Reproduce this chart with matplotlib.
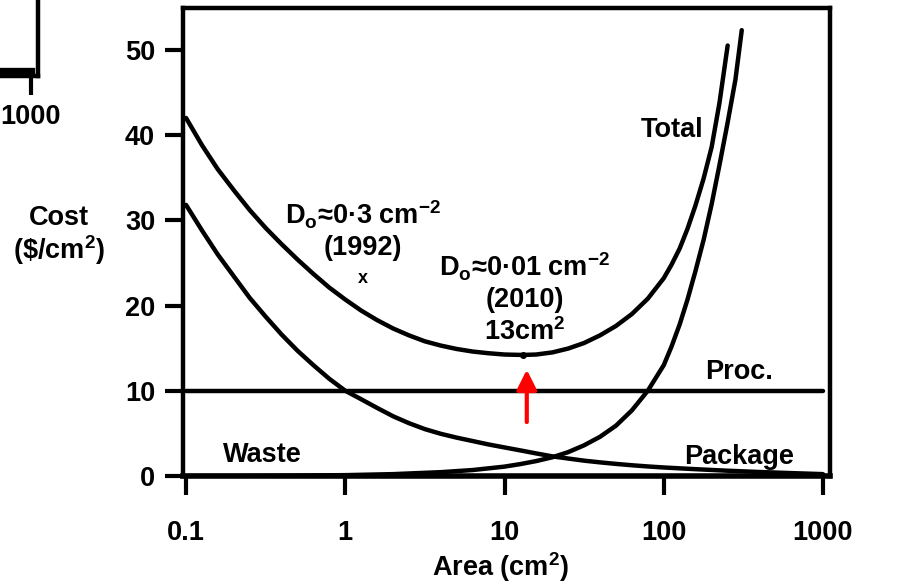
import numpy as np
import matplotlib
matplotlib.use("Agg")
from matplotlib import pyplot as plt

plt.rcParams['font.family'] = ['Liberation Sans', 'DejaVu Sans']
plt.rcParams['font.weight'] = 'bold'
plt.rcParams['mathtext.fontset'] = 'custom'
plt.rcParams['mathtext.rm'] = 'Liberation Sans:bold'
plt.rcParams['mathtext.it'] = 'Liberation Sans:bold'
plt.rcParams['mathtext.bf'] = 'Liberation Sans:bold'

FS = 19.5

## cost curves, $/cm^2 against chip area in cm^2
pack_area = [0.1, 0.126, 0.158, 0.2, 0.251, 0.316, 0.398, 0.501, 0.631, 0.794,
             1.0, 1.26, 1.58, 2.0, 2.51, 3.16, 3.98, 5.01, 6.31, 7.94,
             10, 12.6, 15.8, 20, 25.1, 31.6, 39.8, 50.1, 63.1, 79.4,
             100, 158, 251, 398, 631, 1000]
pack_cost = [31.8, 28.8, 26.0, 23.4, 20.9, 18.7, 16.6, 14.7, 13.0, 11.4,
             10.0, 9.0, 8.0, 7.0, 6.2, 5.5, 4.95, 4.5, 4.1, 3.7,
             3.35, 3.0, 2.65, 2.3, 2.05, 1.8, 1.6, 1.42, 1.26, 1.12,
             1.0, 0.8, 0.62, 0.47, 0.34, 0.22]

waste_area = [0.1, 0.316, 1.0, 2.0, 3.98, 6.31, 10, 12.6, 15.8, 20, 25.1, 31.6, 39.8,
              50.1, 63.1, 79.4, 100, 112, 126, 141, 158, 178, 200, 224, 251, 282, 309]
waste_cost = [0.0, 0.02, 0.1, 0.22, 0.45, 0.7, 1.1, 1.4, 1.75, 2.2, 2.8, 3.6, 4.6,
              5.9, 7.7, 10.0, 13.0, 15.2, 17.8, 20.7, 24.0, 27.7, 31.9, 36.5, 41.3, 46.5, 52.3]

total_area = [0.1, 0.126, 0.158, 0.2, 0.251, 0.316, 0.398, 0.501, 0.631, 0.794,
              1.0, 1.26, 1.58, 2.0, 2.51, 3.16, 3.98, 5.01, 6.31, 7.94,
              10, 13, 15.8, 20, 25.1, 31.6, 39.8, 50.1, 63.1, 79.4,
              100, 112, 126, 141, 158, 178, 200, 224, 252]
total_cost = [42.0, 38.8, 36.0, 33.5, 31.2, 29.1, 27.2, 25.4, 23.7, 22.1,
              20.7, 19.4, 18.3, 17.3, 16.5, 15.8, 15.3, 14.9, 14.6, 14.4,
              14.25, 14.2, 14.25, 14.5, 14.95, 15.6, 16.5, 17.6, 19.0, 20.8,
              23.2, 24.8, 26.7, 29.0, 31.7, 34.9, 38.6, 43.8, 50.5]

proc_area = [0.1, 1000]
proc_cost = [10, 10]

opt_area, opt_cost = 13, 14.2        # optimum for Do=0.01
old_area, old_cost = 1.29, 23.2      # 1992 point

fig = plt.figure(figsize=(9.07, 5.87), dpi=100)
W, H = 907.0, 587.0

ax = fig.add_axes([183 / W, 1 - 476 / H, 647 / W, 468 / H])
ax.set_xscale('log')
ax.set_xlim(0.0957, 1107)
ax.set_ylim(0, 54.9)

lw = 3.2
ax.plot(pack_area, pack_cost, color='black', lw=lw, solid_capstyle='round')
ax.plot(waste_area, waste_cost, color='black', lw=lw, solid_capstyle='round')
ax.plot(total_area, total_cost, color='black', lw=lw, solid_capstyle='round')
ax.plot(proc_area, proc_cost, color='black', lw=lw, solid_capstyle='round')

ax.plot([opt_area], [opt_cost], 'o', color='black', ms=4)
ax.text(old_area, old_cost, 'x', ha='center', va='center', fontsize=13)

ax.annotate('', xy=(13.8, 12.8), xytext=(13.8, 6.0),
            arrowprops=dict(arrowstyle='-|>', color='red', lw=3, mutation_scale=30))

ax.text(1.29, 30.6, r'D$_{\rm o}$≈0·3 cm$^{-2}$', ha='center', va='center', fontsize=FS)
ax.text(1.29, 26.7, '(1992)', ha='center', va='center', fontsize=FS)
ax.text(13.4, 24.5, r'D$_{\rm o}$≈0·01 cm$^{-2}$', ha='center', va='center', fontsize=FS)
ax.text(13.4, 20.6, '(2010)', ha='center', va='center', fontsize=FS)
ax.text(13.4, 16.9, r'13cm$^2$', ha='center', va='center', fontsize=FS)

ax.text(112, 40.6, 'Total', ha='center', va='center', fontsize=FS)
ax.text(296, 12.2, 'Proc.', ha='center', va='center', fontsize=FS)
ax.text(296, 2.2, 'Package', ha='center', va='center', fontsize=FS)
ax.text(0.30, 2.5, 'Waste', ha='center', va='center', fontsize=FS)

for s in ax.spines.values():
    s.set_linewidth(3.2)
ax.spines['bottom'].set_linewidth(4.0)

ax.set_xticks([0.1, 1, 10, 100, 1000])
ax.set_xticklabels(['0.1', '1', '10', '100', '1000'])
ax.xaxis.set_minor_locator(matplotlib.ticker.NullLocator())
ax.set_yticks([0, 10, 20, 30, 40, 50])
ax.tick_params(axis='x', direction='out', length=14, width=3, pad=18, labelsize=FS)
ax.tick_params(axis='y', direction='out', length=13, width=3, pad=7, labelsize=FS)

fig.text(59 / W, 1 - 236 / H, 'Cost\n' + r'(\$/cm$^2$)', ha='center', va='center',
         fontsize=FS, multialignment='center', linespacing=1.1)
fig.text(501 / W, 1 - 567 / H, r'Area (cm$^2$)', ha='center', va='center', fontsize=FS)

## corner of the neighbouring panel, cut off at the left edge
ax2 = fig.add_axes([(38 - 647) / W, 1 - 76 / H, 647 / W, 468 / H])
ax2.set_xscale('log')
ax2.set_xlim(0.0957, 1107)
ax2.set_ylim(0, 54.9)
ax2.plot([300, 1000], [0.5, 0.5], color='black', lw=6)
for s in ax2.spines.values():
    s.set_linewidth(3.2)
ax2.spines['left'].set_visible(False)
ax2.spines['top'].set_visible(False)
ax2.set_xticks([1000])
ax2.set_xticklabels(['1000'])
ax2.xaxis.set_minor_locator(matplotlib.ticker.NullLocator())
ax2.set_yticks([])
ax2.tick_params(axis='x', direction='out', length=14, width=3, pad=6, labelsize=FS)

fig.savefig('out.png', dpi=100)
